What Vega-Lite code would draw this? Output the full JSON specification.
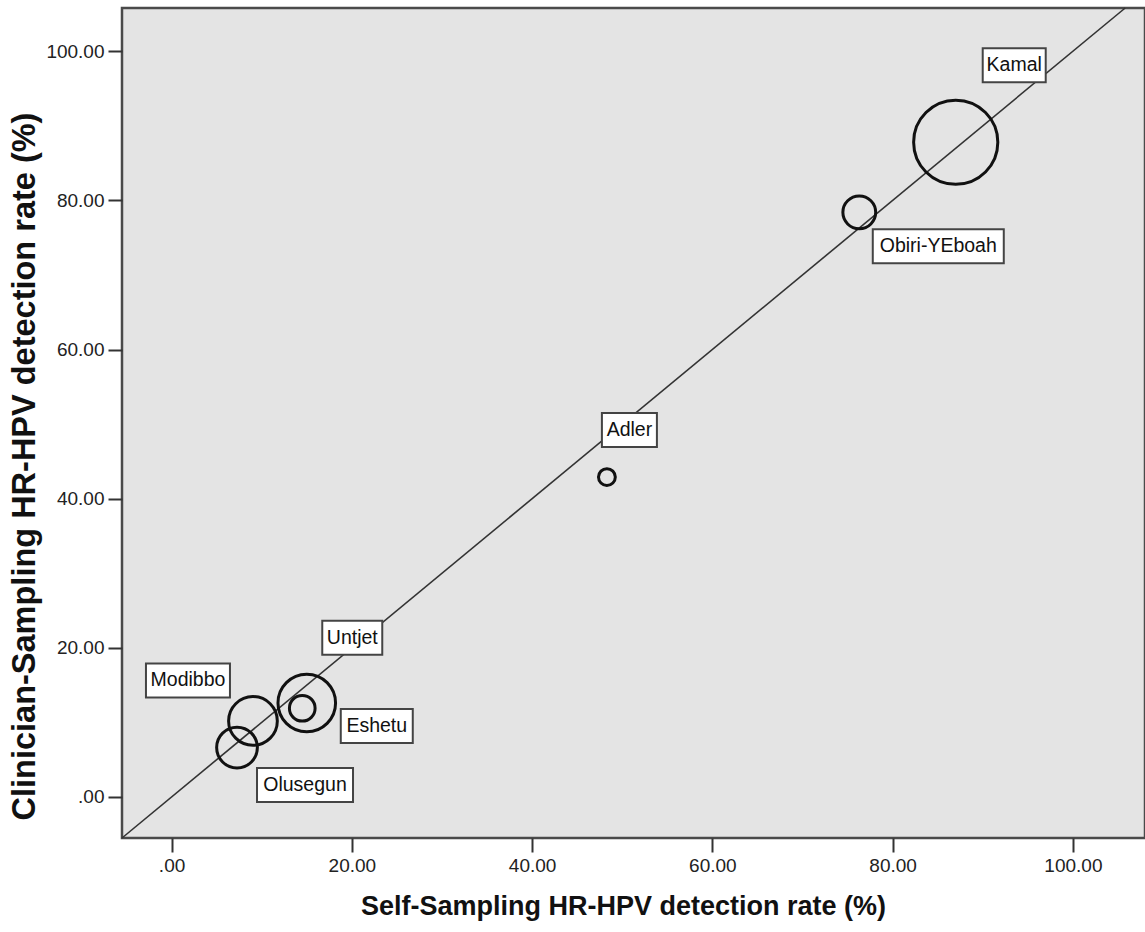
{
  "$schema": "https://vega.github.io/schema/vega-lite/v6.json",
  "width": 1023,
  "height": 830,
  "autosize": "none",
  "padding": {"left": 122, "top": 8, "right": 0, "bottom": 94},
  "background": "white",
  "config": {
    "font": "Liberation Sans",
    "view": {"fill": "#e4e4e4", "stroke": "#4a4a4a", "strokeWidth": 2.5},
    "axis": {
      "domain": false, "grid": false,
      "tickSize": 14, "tickWidth": 2, "tickColor": "#333",
      "labelFontSize": 19, "labelColor": "#222", "labelFont": "Liberation Sans", "labelPadding": 4,
      "titleFontWeight": "bold", "titleColor": "#111", "titleFont": "Liberation Sans"
    }
  },
  "datasets": {
    "studies": [
      {"study": "Kamal", "self": 87.0, "clinician": 87.8, "n": 1000},
      {"study": "Obiri-YEboah", "self": 76.3, "clinician": 78.4, "n": 152},
      {"study": "Adler", "self": 48.3, "clinician": 42.9, "n": 40},
      {"study": "Untjet", "self": 14.5, "clinician": 11.9, "n": 93},
      {"study": "Eshetu", "self": 15.0, "clinician": 12.6, "n": 468},
      {"study": "Modibbo", "self": 9.03, "clinician": 10.2, "n": 335},
      {"study": "Olusegun", "self": 7.26, "clinician": 6.63, "n": 234}
    ],
    "diag": [{"v": -5.5}, {"v": 105.8}]
  },
  "layer": [
    {
      "data": {"name": "diag"},
      "mark": {"type": "line", "color": "#333", "strokeWidth": 1.6},
      "encoding": {
        "x": {"field": "v", "type": "quantitative", "scale": {"domain": [-5.5, 108], "nice": false, "zero": false},
              "axis": {"values": [0, 20, 40, 60, 80, 100], "labelExpr": "datum.value === 0 ? '.00' : format(datum.value, '.2f')", "title": "Self-Sampling HR-HPV detection rate (%)", "titleFontSize": 27, "titlePadding": 18, "titleX": 501}},
        "y": {"field": "v", "type": "quantitative", "scale": {"domain": [-5.5, 105.8], "nice": false, "zero": false},
              "axis": {"values": [0, 20, 40, 60, 80, 100], "labelExpr": "datum.value === 0 ? '.00' : format(datum.value, '.2f')", "title": "Clinician-Sampling HR-HPV detection rate (%)", "titleFontSize": 32.5, "titlePadding": 4, "titleY": 458}}
      }
    },
    {
      "data": {"name": "studies"},
      "mark": {"type": "point", "shape": "circle", "filled": false, "stroke": "#111", "strokeWidth": 3, "opacity": 1},
      "encoding": {
        "x": {"field": "self", "type": "quantitative"},
        "y": {"field": "clinician", "type": "quantitative"},
        "size": {"field": "n", "type": "quantitative", "scale": {"type": "linear", "domain": [0, 1000], "range": [0, 7088], "zero": true}, "legend": null}
      }
    },
    {
      "data": {"name": "studies"},
      "mark": {
        "type": "rect", "fill": "white", "stroke": "#444", "strokeWidth": 2,
        "xOffset": {"expr": "(datum.study==='Kamal'?58.5:datum.study==='Obiri-YEboah'?79:datum.study==='Adler'?22.5:datum.study==='Untjet'?50:datum.study==='Modibbo'?-65:datum.study==='Eshetu'?70:68) - (datum.study==='Kamal'?63:datum.study==='Obiri-YEboah'?131:datum.study==='Adler'?55:datum.study==='Untjet'?60:datum.study==='Modibbo'?84:datum.study==='Eshetu'?72:96)/2"},
        "x2Offset": {"expr": "(datum.study==='Kamal'?58.5:datum.study==='Obiri-YEboah'?79:datum.study==='Adler'?22.5:datum.study==='Untjet'?50:datum.study==='Modibbo'?-65:datum.study==='Eshetu'?70:68) + (datum.study==='Kamal'?63:datum.study==='Obiri-YEboah'?131:datum.study==='Adler'?55:datum.study==='Untjet'?60:datum.study==='Modibbo'?84:datum.study==='Eshetu'?72:96)/2"},
        "yOffset": {"expr": "(datum.study==='Kamal'?-77:datum.study==='Obiri-YEboah'?34:datum.study==='Adler'?-47:datum.study==='Untjet'?-70.5:datum.study==='Modibbo'?-40.5:datum.study==='Eshetu'?23:37.5) - 17"},
        "y2Offset": {"expr": "(datum.study==='Kamal'?-77:datum.study==='Obiri-YEboah'?34:datum.study==='Adler'?-47:datum.study==='Untjet'?-70.5:datum.study==='Modibbo'?-40.5:datum.study==='Eshetu'?23:37.5) + 17"}
      },
      "encoding": {
        "x": {"field": "self", "type": "quantitative"},
        "x2": {"field": "self"},
        "y": {"field": "clinician", "type": "quantitative"},
        "y2": {"field": "clinician"}
      }
    },
    {
      "data": {"name": "studies"},
      "mark": {
        "type": "text", "fontSize": 19.5, "color": "#111", "align": "center", "baseline": "middle",
        "dx": {"expr": "datum.study==='Kamal'?58.5:datum.study==='Obiri-YEboah'?79:datum.study==='Adler'?22.5:datum.study==='Untjet'?50:datum.study==='Modibbo'?-65:datum.study==='Eshetu'?70:68"},
        "dy": {"expr": "datum.study==='Kamal'?-77:datum.study==='Obiri-YEboah'?34:datum.study==='Adler'?-47:datum.study==='Untjet'?-70.5:datum.study==='Modibbo'?-40.5:datum.study==='Eshetu'?23:37.5"}
      },
      "encoding": {
        "x": {"field": "self", "type": "quantitative"},
        "y": {"field": "clinician", "type": "quantitative"},
        "text": {"field": "study"}
      }
    }
  ]
}
